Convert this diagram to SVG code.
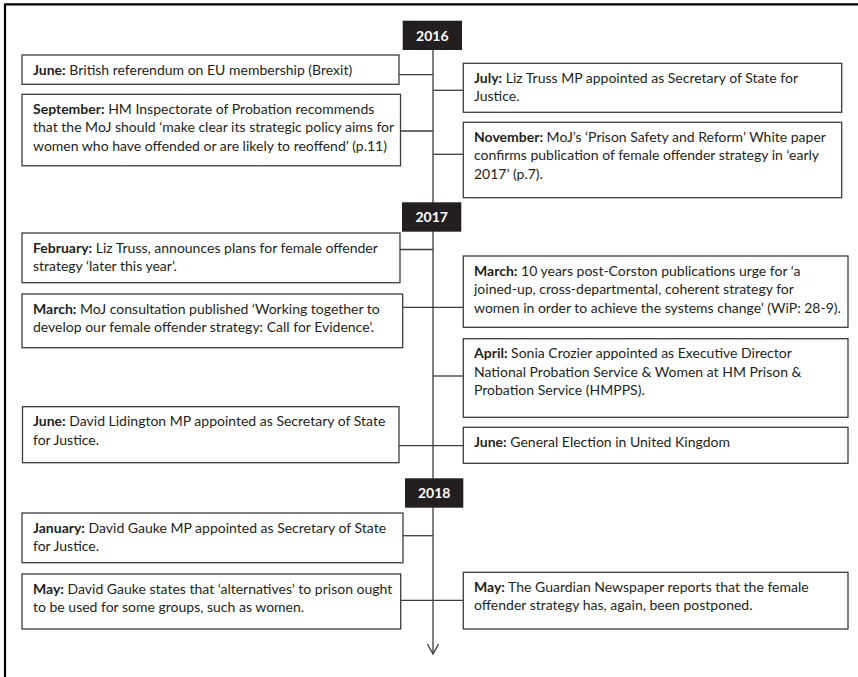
<svg xmlns="http://www.w3.org/2000/svg" width="858" height="677" viewBox="0 0 858 677">
<style>
.frame{fill:none;stroke:#000;stroke-width:2.2}
.box{fill:#fff;stroke:#3c3c3c;stroke-width:1.3}
.yr{fill:#231f20}
.yt{fill:#fff;font-family:Lato,"Liberation Sans",sans-serif;font-weight:bold;font-size:14px;text-anchor:middle}
.t{fill:#231f20;font-family:Lato,"Liberation Sans",sans-serif;font-size:14px}
.b{font-weight:bold}
.c{stroke:#3c3c3c;stroke-width:1.3;fill:none}
</style>
<defs>
<marker id="arr" viewBox="0 0 12 12" refX="11" refY="6" markerWidth="12" markerHeight="12" markerUnits="userSpaceOnUse" orient="auto">
<path d="M1,0.5 L11,6 L1,11.5" fill="none" stroke="#3c3c3c" stroke-width="1.3"/>
</marker>
</defs>
<rect width="858" height="677" fill="#fff"/>
<path class="frame" d="M5,677 V4.3 H858"/>

<g id="connectors">
<line class="c" x1="433" y1="50" x2="433" y2="654" marker-end="url(#arr)"/>
<line class="c" x1="399" y1="74.7" x2="433" y2="74.7"/>
<line class="c" x1="433" y1="90.3" x2="463.3" y2="90.3"/>
<line class="c" x1="400.5" y1="131" x2="433" y2="131"/>
<line class="c" x1="433" y1="154.3" x2="463.3" y2="154.3"/>
<line class="c" x1="400" y1="249.5" x2="433" y2="249.5"/>
<line class="c" x1="402.7" y1="307.3" x2="463.3" y2="307.3"/>
<line class="c" x1="433" y1="376" x2="463.3" y2="376"/>
<line class="c" x1="399" y1="445.7" x2="463.3" y2="445.7"/>
<line class="c" x1="403" y1="535.7" x2="433" y2="535.7"/>
<line class="c" x1="400.7" y1="600.3" x2="463.3" y2="600.3"/>
</g>

<g id="y2016"><rect class="yr" x="402.7" y="20.7" width="59.3" height="29.3"/><text class="yt" x="432.3" y="40.5">2016</text></g>
<g id="y2017"><rect class="yr" x="402" y="202.3" width="59.3" height="29.4"/><text class="yt" x="431.7" y="222">2017</text></g>
<g id="y2018"><rect class="yr" x="405" y="478.3" width="58.3" height="29.4"/><text class="yt" x="434.2" y="498">2018</text></g>

<g id="june2016">
<rect class="box" x="22" y="55" width="377" height="29.3"/>
<text class="t" x="33" y="74.5"><tspan class="b">June:</tspan> British referendum on EU membership (Brexit)</text>
</g>
<g id="sep2016">
<rect class="box" x="22" y="94.3" width="378.5" height="71.5"/>
<text class="t" x="33" y="113.8"><tspan class="b">September:</tspan> HM Inspectorate of Probation recommends</text>
<text class="t" x="33" y="132.4">that the MoJ should ‘make clear its strategic policy aims for</text>
<text class="t" x="33" y="151">women who have offended or are likely to reoffend’ (p.11)</text>
</g>
<g id="jul2016">
<rect class="box" x="463.3" y="63.3" width="378.4" height="49"/>
<text class="t" x="474" y="82.8"><tspan class="b">July:</tspan> Liz Truss MP appointed as Secretary of State for</text>
<text class="t" x="474" y="101.4">Justice.</text>
</g>
<g id="nov2016">
<rect class="box" x="463.3" y="122.3" width="378.4" height="75.4"/>
<text class="t" x="474" y="141.8"><tspan class="b">November:</tspan> MoJ’s ‘Prison Safety and Reform’ White paper</text>
<text class="t" x="474" y="160.4">confirms publication of female offender strategy in ‘early</text>
<text class="t" x="474" y="179">2017’ (p.7).</text>
</g>
<g id="feb2017">
<rect class="box" x="22" y="233" width="378" height="49.7"/>
<text class="t" x="33" y="252.5"><tspan class="b">February:</tspan> Liz Truss, announces plans for female offender</text>
<text class="t" x="33" y="271.1">strategy ‘later this year’.</text>
</g>
<g id="mar2017a">
<rect class="box" x="22" y="294" width="380.7" height="53.7"/>
<text class="t" x="33" y="313.5"><tspan class="b">March:</tspan> MoJ consultation published ‘Working together to</text>
<text class="t" x="33" y="332.1">develop our female offender strategy: Call for Evidence’.</text>
</g>
<g id="mar2017b">
<rect class="box" x="463.3" y="256" width="384.7" height="71.3"/>
<text class="t" x="474" y="275.5"><tspan class="b">March:</tspan> 10 years post-Corston publications urge for ‘a</text>
<text class="t" x="474" y="294.1">joined-up, cross-departmental, coherent strategy for</text>
<text class="t" x="474" y="312.7">women in order to achieve the systems change’ (WiP: 28-9).</text>
</g>
<g id="apr2017">
<rect class="box" x="463.3" y="338.7" width="384.7" height="78.6"/>
<text class="t" x="474" y="358.2"><tspan class="b">April:</tspan> Sonia Crozier appointed as Executive Director</text>
<text class="t" x="474" y="376.8">National Probation Service &amp; Women at HM Prison &amp;</text>
<text class="t" x="474" y="395.4">Probation Service (HMPPS).</text>
</g>
<g id="jun2017a">
<rect class="box" x="22.5" y="406.7" width="376.5" height="56"/>
<text class="t" x="33" y="426.2"><tspan class="b">June:</tspan> David Lidington MP appointed as Secretary of State</text>
<text class="t" x="33" y="444.8">for Justice.</text>
</g>
<g id="jun2017b">
<rect class="box" x="463.3" y="427.3" width="384.7" height="36"/>
<text class="t" x="474" y="446.8"><tspan class="b">June:</tspan> General Election in United Kingdom</text>
</g>
<g id="jan2018">
<rect class="box" x="22" y="513" width="381" height="49.7"/>
<text class="t" x="33" y="532.5"><tspan class="b">January:</tspan> David Gauke MP appointed as Secretary of State</text>
<text class="t" x="33" y="551.1">for Justice.</text>
</g>
<g id="may2018a">
<rect class="box" x="22" y="574" width="378.7" height="55"/>
<text class="t" x="33" y="593.5"><tspan class="b">May:</tspan> David Gauke states that ‘alternatives’ to prison ought</text>
<text class="t" x="33" y="612.1">to be used for some groups, such as women.</text>
</g>
<g id="may2018b">
<rect class="box" x="463.3" y="572.3" width="384.7" height="56.7"/>
<text class="t" x="474" y="591.8"><tspan class="b">May:</tspan> The Guardian Newspaper reports that the female</text>
<text class="t" x="474" y="610.4">offender strategy has, again, been postponed.</text>
</g>
</svg>
